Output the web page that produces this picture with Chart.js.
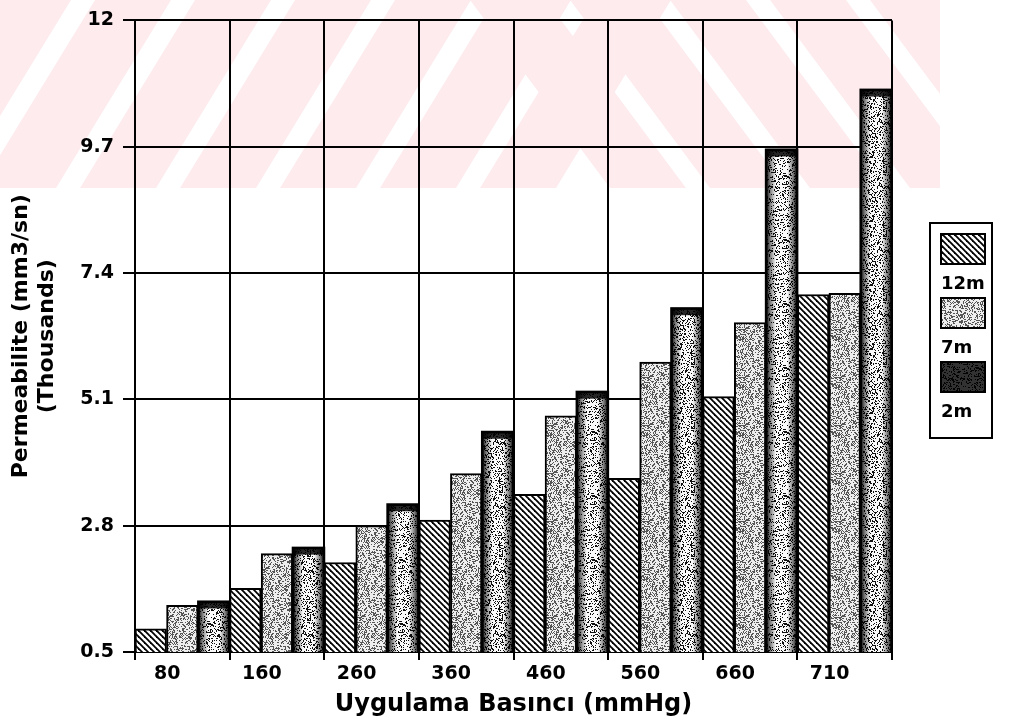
<!DOCTYPE html>
<html>
<head>
<meta charset="utf-8">
<script src="https://cdn.jsdelivr.net/npm/chart.js@4/dist/chart.umd.min.js"></script>
<style>
  html, body { margin: 0; padding: 0; background: #fff; }
</style>
</head>
<body>
<canvas id="chart" width="1014" height="722"></canvas>
<script>
// data (values in thousands)
const categories = ['80', '160', '260', '360', '460', '560', '660', '710']
const seriesNames = ['12m', '7m', '2m']
const values12m = [0.92, 1.66, 2.13, 2.90, 3.37, 3.66, 5.15, 7.01]
const values7m = [1.35, 2.29, 2.80, 3.75, 4.80, 5.78, 6.50, 7.03]
const values2m = [1.42, 2.40, 3.19, 4.51, 5.24, 6.76, 9.65, 10.74]
const yTicks = [0.5, 2.8, 5.1, 7.4, 9.7, 12]

const FONT = '"DejaVu Sans", Arial, sans-serif'

// deterministic noise for the scanned textures
let seed = 12345
const rnd = () => {
  seed = (seed * 16807) % 2147483647
  return seed / 2147483647
}

const makeTile = (w, h, draw) => {
  const c = document.createElement('canvas')
  c.width = w
  c.height = h
  draw(c.getContext('2d'), w, h)
  return c
}

const noiseTile = (w, h, density, dark, light) => makeTile(w, h, (g) => {
  const img = g.createImageData(w, h)
  for (let i = 0; i < w * h; i++) {
    const v = rnd() < density ? dark : light
    img.data[i * 4] = v
    img.data[i * 4 + 1] = v
    img.data[i * 4 + 2] = v
    img.data[i * 4 + 3] = 255
  }
  g.putImageData(img, 0, 0)
})

const ctx = document.getElementById('chart').getContext('2d')

// 12m: black diagonal hatch
const hatchTile = makeTile(6, 6, (g, w, h) => {
  g.fillStyle = '#fff'
  g.fillRect(0, 0, w, h)
  g.strokeStyle = '#000'
  g.lineWidth = 1.8
  for (let k = -1; k <= 1; k++) {
    g.beginPath()
    g.moveTo(k * w - 1, -1)
    g.lineTo(k * w + w + 1, h + 1)
    g.stroke()
  }
})

const fills = [
  ctx.createPattern(hatchTile, 'repeat'),
  ctx.createPattern(noiseTile(48, 48, 0.36, 85, 238), 'repeat'), // 7m light grey
  ctx.createPattern(noiseTile(64, 64, 0.28, 15, 250), 'repeat') // 2m speckle
]

// faint pink watermark stripes behind the top of the chart
const watermark = {
  id: 'watermark',
  beforeDraw (chart) {
    const g = chart.ctx
    g.save()
    g.beginPath()
    g.rect(0, 0, 940, 188)
    g.clip()
    g.fillStyle = '#fdebee'
    for (let x0 = -220; x0 < 560; x0 += 100) {
      g.beginPath()
      g.moveTo(x0, 188)
      g.lineTo(x0 + 76, 188)
      g.lineTo(x0 + 76 + 115, 0)
      g.lineTo(x0 + 115, 0)
      g.closePath()
      g.fill()
    }
    for (let x0 = 470; x0 < 940; x0 += 100) {
      g.beginPath()
      g.moveTo(x0, 0)
      g.lineTo(x0 + 76, 0)
      g.lineTo(x0 + 76 + 140, 188)
      g.lineTo(x0 + 140, 188)
      g.closePath()
      g.fill()
    }
    g.restore()
  }
}

// darken the edges of the 2m bars like the scanned shading
const shading = {
  id: 'shading',
  afterDatasetDraw (chart, args) {
    if (args.index !== 2) return
    const g = chart.ctx
    const area = chart.chartArea
    g.save()
    g.beginPath()
    g.rect(area.left, area.top, area.right - area.left, area.bottom - area.top)
    g.clip()
    args.meta.data.forEach(bar => {
      const left = bar.x - bar.width / 2
      const grad = g.createLinearGradient(left, 0, left + bar.width, 0)
      grad.addColorStop(0, 'rgba(0,0,0,0.95)')
      grad.addColorStop(0.14, 'rgba(0,0,0,0.5)')
      grad.addColorStop(0.32, 'rgba(0,0,0,0)')
      grad.addColorStop(0.68, 'rgba(0,0,0,0)')
      grad.addColorStop(0.86, 'rgba(0,0,0,0.5)')
      grad.addColorStop(1, 'rgba(0,0,0,0.95)')
      g.fillStyle = grad
      g.fillRect(left, bar.y, bar.width, bar.base - bar.y)
      g.fillStyle = 'rgba(0,0,0,0.85)'
      g.fillRect(left, bar.y, bar.width, 7)
      g.strokeStyle = '#000'
      g.lineWidth = 2
      g.strokeRect(left, bar.y, bar.width, bar.base - bar.y)
    })
    g.restore()
  }
}

// legend: swatch boxes with the series name underneath
const boxLegend = {
  id: 'boxLegend',
  afterDraw (chart) {
    const g = chart.ctx
    const bx = 930
    const by = 223
    const bw = 62
    const bh = 215
    g.save()
    g.strokeStyle = '#000'
    g.lineWidth = 2
    g.strokeRect(bx, by, bw, bh)
    g.font = 'bold 18px ' + FONT
    g.textBaseline = 'alphabetic'
    g.textAlign = 'left'
    seriesNames.forEach((name, i) => {
      const sy = by + 11 + i * 64
      g.fillStyle = fills[i]
      g.fillRect(941, sy, 44, 30)
      if (i === 2) {
        g.fillStyle = 'rgba(0,0,0,0.8)'
        g.fillRect(941, sy, 44, 30)
      }
      g.strokeRect(941, sy, 44, 30)
      g.fillStyle = '#000'
      g.fillText(name, 941, sy + 55)
    })
    g.restore()
  }
}

new Chart(ctx, {
  type: 'bar',
  data: {
    labels: categories,
    datasets: [
      { label: seriesNames[0], data: values12m, backgroundColor: fills[0] },
      { label: seriesNames[1], data: values7m, backgroundColor: fills[1] },
      { label: seriesNames[2], data: values2m, backgroundColor: fills[2] }
    ]
  },
  options: {
    responsive: false,
    animation: false,
    devicePixelRatio: 1,
    events: [],
    layout: { padding: { left: 0, right: 122, top: 16, bottom: 0 } },
    datasets: {
      bar: {
        categoryPercentage: 1,
        barPercentage: 1,
        borderColor: '#000',
        borderWidth: 2
      }
    },
    plugins: {
      legend: { display: false },
      tooltip: { enabled: false }
    },
    scales: {
      x: {
        afterFit: s => { s.height = 70 },
        grid: { color: '#000', lineWidth: 2, tickLength: 8, offset: true },
        border: { color: '#000', width: 2 },
        ticks: {
          color: '#000',
          font: { family: FONT, size: 19, weight: 'bold' },
          padding: 3,
          labelOffset: -15,
          maxRotation: 0
        },
        title: {
          display: true,
          text: 'Uygulama Basıncı (mmHg)',
          color: '#000',
          font: { family: FONT, size: 24, weight: 'bold' },
          padding: { top: 0, bottom: 3 }
        }
      },
      y: {
        min: 0.5,
        max: 12,
        afterFit: s => { s.width = 135 },
        afterBuildTicks: s => { s.ticks = yTicks.map(v => ({ value: v })) },
        grid: { color: '#000', lineWidth: 2, tickLength: 12 },
        border: { color: '#000', width: 2 },
        ticks: {
          color: '#000',
          font: { family: FONT, size: 19, weight: 'bold' },
          padding: 9,
          callback: v => String(v)
        },
        title: {
          display: true,
          text: ['Permeabilite (mm3/sn)', '(Thousands)'],
          color: '#000',
          font: { family: FONT, size: 22, weight: 'bold', lineHeight: 1.15 },
          padding: { top: 9, bottom: 0 }
        }
      }
    }
  },
  plugins: [watermark, shading, boxLegend]
})
</script>
</body>
</html>
